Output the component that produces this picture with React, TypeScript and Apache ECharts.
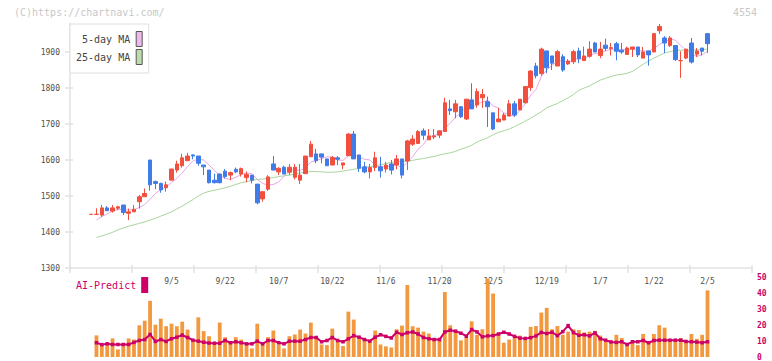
import React, { useEffect, useRef } from "react";
import * as echarts from "echarts";

const MONO = '"DejaVu Sans Mono", "Liberation Mono", monospace';

// trading days (2025-08-15 .. 2026-02-05)
const dates: string[] = [
  "8/15", "8/18", "8/19", "8/20", "8/21", "8/22", "8/25", "8/26", "8/27", "8/28",
  "8/29", "9/1", "9/2", "9/3", "9/4", "9/5", "9/8", "9/9", "9/10", "9/11",
  "9/12", "9/16", "9/17", "9/18", "9/19", "9/22", "9/24", "9/25", "9/26", "9/29",
  "9/30", "10/1", "10/2", "10/3", "10/6", "10/7", "10/8", "10/9", "10/10", "10/14",
  "10/15", "10/16", "10/17", "10/20", "10/21", "10/22", "10/23", "10/24", "10/27", "10/28",
  "10/29", "10/30", "10/31", "11/4", "11/5", "11/6", "11/7", "11/10", "11/11", "11/12",
  "11/13", "11/14", "11/17", "11/18", "11/19", "11/20", "11/21", "11/25", "11/26", "11/27",
  "11/28", "12/1", "12/2", "12/3", "12/4", "12/5", "12/8", "12/9", "12/10", "12/11",
  "12/12", "12/15", "12/16", "12/17", "12/18", "12/19", "12/22", "12/23", "12/24", "12/25",
  "12/26", "12/29", "12/30", "1/5", "1/6", "1/7", "1/8", "1/9", "1/13", "1/14",
  "1/15", "1/16", "1/19", "1/20", "1/21", "1/22", "1/23", "1/26", "1/27", "1/28",
  "1/29", "1/30", "2/2", "2/3", "2/4", "2/5",
];

const dateLabels = ["9/5", "9/22", "10/7", "10/22", "11/6", "11/20", "12/5", "12/19", "1/7", "1/22", "2/5"];

const priceTicks = [1300, 1400, 1500, 1600, 1700, 1800, 1900];

// open, close, low, high
const ohlc: number[][] = [
  [1449, 1449, 1449, 1449], [1449, 1449, 1449, 1466], [1447, 1467, 1442, 1475], [1467, 1459, 1459, 1472],
  [1458, 1467, 1454, 1475], [1466, 1470, 1461, 1473], [1475, 1454, 1447, 1475], [1452, 1456, 1433, 1465],
  [1456, 1463, 1455, 1475], [1484, 1498, 1465, 1503], [1498, 1507, 1498, 1521], [1600, 1531, 1515, 1600],
  [1540, 1535, 1519, 1543], [1535, 1517, 1509, 1537], [1523, 1531, 1512, 1540], [1544, 1575, 1544, 1575],
  [1572, 1589, 1565, 1598], [1584, 1606, 1579, 1617], [1598, 1611, 1598, 1620], [1614, 1611, 1602, 1616],
  [1611, 1591, 1584, 1611], [1586, 1581, 1558, 1586], [1572, 1537, 1535, 1572], [1544, 1537, 1535, 1562],
  [1561, 1537, 1535, 1563], [1569, 1554, 1549, 1575], [1558, 1565, 1544, 1568], [1574, 1567, 1563, 1579],
  [1561, 1576, 1554, 1579], [1551, 1560, 1538, 1568], [1558, 1544, 1535, 1558], [1533, 1481, 1477, 1533],
  [1492, 1512, 1484, 1512], [1519, 1553, 1514, 1558], [1589, 1572, 1572, 1611], [1567, 1577, 1558, 1580],
  [1580, 1561, 1561, 1584], [1566, 1580, 1558, 1589], [1552, 1580, 1546, 1589], [1544, 1558, 1533, 1589],
  [1562, 1611, 1562, 1611], [1609, 1644, 1609, 1653], [1617, 1598, 1591, 1631], [1617, 1608, 1591, 1617],
  [1603, 1584, 1584, 1603], [1586, 1607, 1586, 1611], [1606, 1602, 1586, 1611], [1586, 1592, 1574, 1592],
  [1612, 1672, 1612, 1675], [1672, 1603, 1603, 1681], [1614, 1577, 1567, 1614], [1581, 1567, 1563, 1595],
  [1567, 1579, 1549, 1589], [1579, 1606, 1569, 1623], [1581, 1570, 1551, 1609], [1575, 1586, 1565, 1595],
  [1589, 1572, 1560, 1600], [1586, 1603, 1574, 1614], [1603, 1558, 1549, 1603], [1597, 1653, 1572, 1656],
  [1644, 1658, 1639, 1669], [1646, 1679, 1646, 1683], [1681, 1669, 1656, 1688], [1656, 1667, 1656, 1686],
  [1664, 1667, 1658, 1686], [1669, 1681, 1661, 1681], [1679, 1759, 1679, 1773], [1742, 1737, 1725, 1767],
  [1734, 1756, 1716, 1767], [1748, 1720, 1717, 1750], [1714, 1769, 1711, 1769], [1767, 1742, 1742, 1813],
  [1753, 1790, 1745, 1799], [1773, 1782, 1745, 1797], [1762, 1748, 1692, 1776], [1731, 1686, 1683, 1731],
  [1706, 1714, 1706, 1745], [1711, 1725, 1711, 1731], [1722, 1756, 1722, 1767], [1756, 1725, 1720, 1764],
  [1739, 1769, 1739, 1769], [1759, 1804, 1757, 1804], [1801, 1847, 1792, 1850], [1861, 1834, 1827, 1870],
  [1840, 1908, 1834, 1912], [1903, 1856, 1841, 1903], [1889, 1869, 1850, 1889], [1861, 1901, 1861, 1906],
  [1887, 1850, 1845, 1894], [1867, 1875, 1864, 1880], [1873, 1901, 1867, 1906], [1903, 1881, 1869, 1912],
  [1876, 1889, 1876, 1915], [1888, 1908, 1884, 1930], [1925, 1900, 1900, 1928], [1890, 1908, 1883, 1928],
  [1919, 1910, 1903, 1937], [1910, 1912, 1890, 1925], [1923, 1902, 1877, 1928], [1905, 1900, 1895, 1925],
  [1893, 1911, 1893, 1915], [1908, 1914, 1886, 1914], [1914, 1892, 1886, 1914], [1883, 1900, 1883, 1914],
  [1903, 1892, 1862, 1903], [1900, 1951, 1900, 1953], [1959, 1971, 1950, 1978], [1939, 1925, 1897, 1944],
  [1918, 1939, 1914, 1944], [1918, 1879, 1875, 1918], [1876, 1876, 1828, 1902], [1883, 1908, 1880, 1908],
  [1925, 1872, 1868, 1939], [1894, 1903, 1886, 1911], [1911, 1902, 1891, 1911], [1951, 1923, 1898, 1951],
];

const ma5: (number | null)[] = [
  null, 1433, 1443, 1450, 1458, 1462, 1463, 1461, 1462, 1468, 1476, 1491, 1507, 1518, 1524, 1538,
  1549, 1564, 1582, 1598, 1602, 1600, 1586, 1571, 1557, 1549, 1546, 1552, 1560, 1564, 1562, 1546,
  1535, 1530, 1532, 1539, 1555, 1569, 1574, 1571, 1578, 1595, 1598, 1604, 1609, 1608, 1600, 1599,
  1611, 1615, 1609, 1602, 1600, 1586, 1580, 1582, 1583, 1587, 1578, 1594, 1609, 1630, 1643, 1665,
  1668, 1673, 1689, 1702, 1720, 1731, 1748, 1745, 1755, 1761, 1766, 1750, 1744, 1731, 1726, 1721,
  1738, 1756, 1780, 1796, 1832, 1850, 1863, 1874, 1877, 1870, 1879, 1882, 1879, 1891, 1896, 1897,
  1903, 1908, 1906, 1906, 1907, 1908, 1904, 1903, 1902, 1910, 1921, 1928, 1936, 1933, 1918, 1905,
  1895, 1888, 1892, 1902,
];

const ma25: (number | null)[] = [
  null, 1385, 1389, 1394, 1399, 1406, 1411, 1416, 1420, 1424, 1428, 1433, 1438, 1444, 1450, 1456,
  1464, 1472, 1481, 1490, 1500, 1508, 1513, 1516, 1519, 1523, 1527, 1532, 1537, 1540, 1543, 1546,
  1547, 1549, 1551, 1554, 1556, 1558, 1561, 1564, 1566, 1568, 1568, 1567, 1566, 1566, 1567, 1569,
  1572, 1574, 1577, 1579, 1581, 1584, 1587, 1590, 1593, 1595, 1596, 1597, 1599, 1602, 1604, 1607,
  1610, 1614, 1617, 1620, 1624, 1630, 1635, 1641, 1650, 1656, 1662, 1670, 1677, 1681, 1686, 1693,
  1700, 1708, 1716, 1725, 1734, 1745, 1751, 1757, 1765, 1773, 1782, 1794, 1800, 1806, 1814, 1822,
  1827, 1832, 1836, 1838, 1841, 1846, 1856, 1866, 1875, 1883, 1890, 1897, 1901, 1904, 1905, 1905,
  1905, 1906, 1907, 1908,
];

const volume: (number | null)[] = [
  null, 13.6, 8.4, 8.4, 11.7, 4.8, 7.5, 11.7, 11, 20, 22.9,
  35.4, 20.4, 24.2, 19.4, 21, 19.4, 22.3, 17.3, 10.4, 25,
  16.3, 13.1, 8.4, 21.7, 12.5, 10, 12.5, 11, 8.4, 5.4,
  21, 8.4, 12.5, 16.7, 7.9, 5.4, 13.1, 14.2, 17.3, 14.8,
  21.7, 12.5, 7.9, 7.5, 17.9, 10, 6.9, 28.6, 23.6, 13.1,
  11, 9.6, 16.7, 7.9, 6.7, 6, 17.5, 19.8, 45.4, 19.4,
  18.5, 16, 14.8, 11, 11, 41, 20, 16, 10.5, 12,
  22.5, 14, 17.5, 49.5, 40, 14, 9, 11, 12, 13.5,
  11, 19, 19.5, 28, 31, 17.5, 19.5, 14, 16, 17.5,
  17, 15.5, 16, 16.5, 13.5, 9.5, 9, 14, 12, 8,
  9.5, 7.5, 14.5, 9.5, 14.5, 20, 18.5, 10.5, 10.5, 12,
  10, 14.5, 11.5, 14, 42,
];

const aiPredict: (number | null)[] = [
  null, 9, 7.8, 8.3, 7.9, 7.9, 7.9, 7.9, 9.2, 10.4, 11,
  14.2, 9.8, 11, 9.8, 11.5, 12.5, 13.8, 12.3, 10.6, 10,
  9.3, 8.8, 8.7, 8.7, 10.4, 9, 9.6, 9, 8.3, 8.3,
  10, 8.3, 10.4, 10.4, 9, 8.3, 10, 10, 10, 11,
  12.3, 12.3, 9.6, 10.4, 12.3, 10.4, 9.6, 11.5, 13.5, 12.5,
  11, 10, 12.5, 14, 13, 12, 15.6, 14.2, 15.3, 15.8,
  14.5, 12.3, 11.5, 11, 11, 15.8, 16.9, 16.3, 15, 13.1,
  17.3, 15.8, 12.7, 13.3, 13.5, 14.5, 15.6, 14.5, 13, 11.9,
  11.7, 12.2, 13.3, 15.5, 14.8, 15.6, 13.5, 16, 19.8, 15.4,
  13.7, 14, 13.3, 15.2, 11.5, 10.6, 9.5, 9.2, 9.6, 7.9,
  9.6, 9.6, 10.4, 9, 10.4, 10.6, 10.6, 10.6, 10.6, 10.6,
  9.8, 9.6, 9.4, 9, 9.6,
];

const volumeTicks = [0, 10, 20, 30, 40, 50];

export default function App() {
  const ref = useRef<HTMLDivElement>(null);

  useEffect(() => {
    if (!ref.current) return;
    const chart = echarts.init(ref.current, undefined, { renderer: "svg" });

    const PMIN = 1300;
    const PMAX = 1980;
    const TOP = 268 - (PMAX - PMIN) * 0.36;
    const STEP = 5.36;
    const GL = 91.1 - STEP / 2;
    const GR = 772 - (GL + STEP * dates.length);
    const axisGray = "#e2e2e2";
    const labelSet = new Set(dateLabels);
    const plain = (v: number) => String(v);

    const option: any = {
      animation: false,
      backgroundColor: "#ffffff",
      textStyle: { fontFamily: MONO },
      graphic: [
        {
          type: "text",
          x: 14,
          y: 12.5,
          style: { text: "(C)https://chartnavi.com/", fill: "#c8c8c8", font: `10px ${MONO}`, align: "left", verticalAlign: "middle" },
        },
        {
          type: "text",
          x: 757,
          y: 12.5,
          style: { text: "4554", fill: "#c8c8c8", font: `10px ${MONO}`, align: "right", verticalAlign: "middle" },
        },
      ],
      legend: [
        {
          data: ["5-day MA", "25-day MA"],
          orient: "vertical",
          align: "right",
          left: 70,
          top: 24,
          padding: [7, 6, 8, 6],
          itemGap: 2,
          itemWidth: 6,
          itemHeight: 15,
          icon: "rect",
          backgroundColor: "#ffffff",
          borderColor: "#e0e0e0",
          borderWidth: 1,
          itemStyle: { borderColor: "#555555", borderWidth: 1 },
          textStyle: { fontFamily: MONO, fontSize: 10, color: "#444444", padding: [0, 1, 0, 0] },
          selectedMode: false,
        },
        {
          data: ["AI-Predict"],
          orient: "horizontal",
          align: "right",
          left: 70,
          top: 277,
          padding: [0, 0, 0, 6],
          itemWidth: 7,
          itemHeight: 16,
          icon: "rect",
          itemStyle: { borderWidth: 0 },
          textStyle: { fontFamily: MONO, fontSize: 10, color: "#cc0066" },
          selectedMode: false,
        },
      ],
      grid: [
        { left: 70, right: 20, top: TOP, bottom: 93 },
        { left: GL, right: GR, top: TOP, bottom: 93 },
        { left: GL, right: GR, top: 277.7, bottom: 3.3 },
      ],
      xAxis: [
        {
          gridIndex: 0, type: "value", min: 0, max: 11, interval: 1, position: "bottom",
          axisLine: { show: true, lineStyle: { color: axisGray, width: 1.5 } },
          axisTick: { show: true, inside: false, length: 5, lineStyle: { color: axisGray, width: 1.5 } },
          axisLabel: { show: false }, splitLine: { show: false },
        },
        {
          gridIndex: 0, type: "value", min: 0, max: 11, interval: 1, position: "bottom",
          axisLine: { show: false },
          axisTick: { show: true, inside: true, length: 3, lineStyle: { color: axisGray, width: 1.5 } },
          axisLabel: { show: false }, splitLine: { show: false },
        },
        {
          gridIndex: 1, type: "category", data: dates, boundaryGap: true, position: "bottom",
          axisLine: { show: false }, axisTick: { show: false }, splitLine: { show: false },
          axisLabel: {
            show: true,
            interval: (_i: number, v: string) => labelSet.has(v),
            margin: 9,
            fontFamily: MONO,
            fontSize: 8,
            color: "#505050",
          },
        },
        {
          gridIndex: 2, type: "category", data: dates, boundaryGap: true, show: false,
        },
      ],
      yAxis: [
        {
          gridIndex: 0, type: "value", min: PMIN, max: PMAX, interval: 100, position: "left",
          axisLine: { show: true, lineStyle: { color: axisGray, width: 1.5 } },
          axisTick: { show: true, inside: false, length: 5, customValues: priceTicks, lineStyle: { color: axisGray, width: 1.5 } },
          axisLabel: { show: true, customValues: priceTicks, formatter: plain, margin: 10, fontFamily: MONO, fontSize: 8, color: "#505050" },
          splitLine: { show: false },
        },
        {
          gridIndex: 0, type: "value", min: PMIN, max: PMAX, interval: 100, position: "left",
          axisLine: { show: false },
          axisTick: { show: true, inside: true, length: 3, customValues: priceTicks, lineStyle: { color: axisGray, width: 1.5 } },
          axisLabel: { show: false },
          splitLine: { show: false },
        },
        { gridIndex: 1, type: "value", min: PMIN, max: PMAX, show: false },
        {
          gridIndex: 2, type: "value", min: 0, max: 50, interval: 10, position: "right",
          offset: 752 - (772 - GR),
          axisLine: { show: false }, axisTick: { show: false }, splitLine: { show: false },
          axisLabel: { show: true, customValues: volumeTicks, formatter: plain, margin: 5, fontFamily: MONO, fontSize: 8, fontWeight: "bold", color: "#cc0066" },
        },
      ],
      series: [
        {
          name: "price",
          type: "candlestick",
          xAxisIndex: 2,
          yAxisIndex: 2,
          barWidth: 4,
          data: ohlc,
          itemStyle: {
            color: "#f2503f",
            color0: "#3f7ce8",
            borderColor: "#f2503f",
            borderColor0: "#3f7ce8",
            borderColorDoji: "#f2503f",
            borderWidth: 1,
          },
        },
        {
          name: "5-day MA",
          type: "line",
          xAxisIndex: 2,
          yAxisIndex: 2,
          data: ma5,
          showSymbol: false,
          symbol: "none",
          itemStyle: { color: "#f0b8ec" },
          lineStyle: { color: "#e8a6e6", width: 1 },
          z: 1,
        },
        {
          name: "25-day MA",
          type: "line",
          xAxisIndex: 2,
          yAxisIndex: 2,
          data: ma25,
          showSymbol: false,
          symbol: "none",
          itemStyle: { color: "#bcdcae" },
          lineStyle: { color: "#a9d49c", width: 1 },
          z: 1,
        },
        {
          name: "volume",
          type: "bar",
          xAxisIndex: 3,
          yAxisIndex: 3,
          barWidth: 3.8,
          data: volume,
          itemStyle: { color: "#f2983f" },
        },
        {
          name: "AI-Predict",
          type: "line",
          xAxisIndex: 3,
          yAxisIndex: 3,
          data: aiPredict,
          symbol: "rect",
          symbolSize: 3.5,
          showSymbol: true,
          itemStyle: { color: "#cc0066" },
          lineStyle: { color: "#cc0066", width: 2 },
          z: 3,
        },
      ],
    };

    chart.setOption(option);
    return () => chart.dispose();
  }, []);

  return (
    <div
      ref={ref}
      style={{ position: "fixed", left: 0, top: 0, width: 772, height: 361, background: "#fff" }}
    />
  );
}
